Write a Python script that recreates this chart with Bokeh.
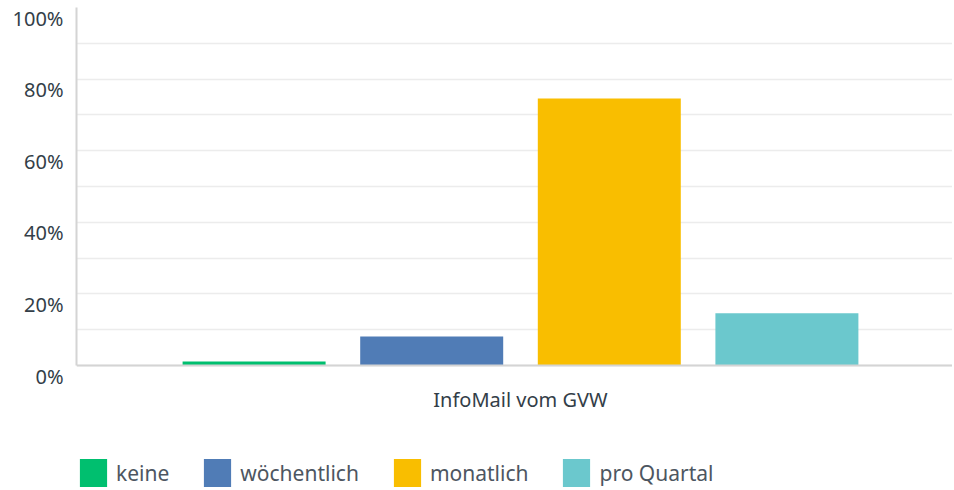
from bokeh.plotting import figure
from bokeh.models import (ColumnDataSource, Range1d, FixedTicker, LinearAxis, Legend,
                          LegendItem, Span, Label)
from bokeh.embed import file_html
from bokeh.resources import INLINE

group_label = "InfoMail vom GVW"
categories = ["keine", "wöchentlich", "monatlich", "pro Quartal"]
values = [1.1, 8.1, 74.6, 14.6]
colors = ["#00bf6f", "#507cb6", "#f9be00", "#6bc8cd"]
y_ticks = [0, 20, 40, 60, 80, 100]
y_tick_labels = ["0%", "20%", "40%", "60%", "80%", "100%"]
grid_ticks = [0, 10, 20, 30, 40, 50, 60, 70, 80, 90, 100]

FONT = "Noto Sans"
center = 0.5
step = 0.2
xs = [center + (i - (len(categories) - 1) / 2) * step for i in range(len(categories))]

PX_PER_UNIT = 3.58
SHIFT = 10.5 / PX_PER_UNIT          # tick labels sit just below their grid line
TOP_BORDER = 7
FRAME_H = 490 - TOP_BORDER           # frame reaches to the bottom so legend/label are not clipped
Y_MIN = 100 - FRAME_H / PX_PER_UNIT

src = ColumnDataSource(dict(x=xs, top=values, color=colors, label=categories))

p = figure(frame_width=876, frame_height=FRAME_H, output_backend="svg", toolbar_location=None,
           x_range=Range1d(0, 876 / 888), y_range=Range1d(Y_MIN, 100),
           x_axis_location=None,
           min_border_left=76, min_border_right=0, min_border_top=TOP_BORDER,
           min_border_bottom=0)
p.outline_line_color = None
p.background_fill_color = "white"

# grid
p.xgrid.grid_line_color = None
p.ygrid.ticker = FixedTicker(ticks=grid_ticks)
p.ygrid.grid_line_color = "#ececec"
p.ygrid.grid_line_width = 1.5

r = p.vbar(x="x", top="top", width=143 / 888, bottom=0, color="color", source=src, line_color=None)

# baseline (x axis line)
p.add_layout(Span(location=0, dimension="width", line_color="#d4d4d4", line_width=2))

# inner y axis: line only, from 0 to 100
p.yaxis.ticker = FixedTicker(ticks=[])
p.yaxis.bounds = (0, 100)
p.yaxis.axis_line_color = "#d4d4d4"
p.yaxis.axis_line_width = 2
p.yaxis.major_tick_line_color = None
p.yaxis.minor_tick_line_color = None
p.yaxis.major_label_standoff = 0
p.yaxis.major_tick_out = 0
p.yaxis.minor_tick_out = 0

# outer y axis: labels only
lab_axis = LinearAxis(ticker=FixedTicker(ticks=[t - SHIFT for t in y_ticks]),
                      major_label_overrides={t - SHIFT: s for t, s in zip(y_ticks, y_tick_labels)},
                      axis_line_color=None, major_tick_line_color=None, minor_tick_line_color=None,
                      major_tick_out=0, minor_tick_out=0, major_label_standoff=13,
                      major_label_text_font=FONT, major_label_text_font_size="20px",
                      major_label_text_color="#333e48")
p.add_layout(lab_axis, "left")

# category label under the baseline
p.add_layout(Label(x=center, y=0, y_offset=-34, text=group_label, text_align="center",
                   text_baseline="middle", text_font=FONT, text_font_size="20px",
                   text_color="#333e48"))

legend = Legend(items=[LegendItem(label=c, renderers=[r], index=i) for i, c in enumerate(categories)],
                orientation="horizontal", location=(0, 0),
                glyph_width=34, glyph_height=35, label_standoff=6, spacing=31,
                padding=0, margin=0, border_line_color=None, background_fill_alpha=0,
                label_text_font=FONT, label_text_font_size="21px", label_text_color="#4d5661")
p.add_layout(legend, "center")

open("out.html", "w").write(file_html(p, INLINE))
